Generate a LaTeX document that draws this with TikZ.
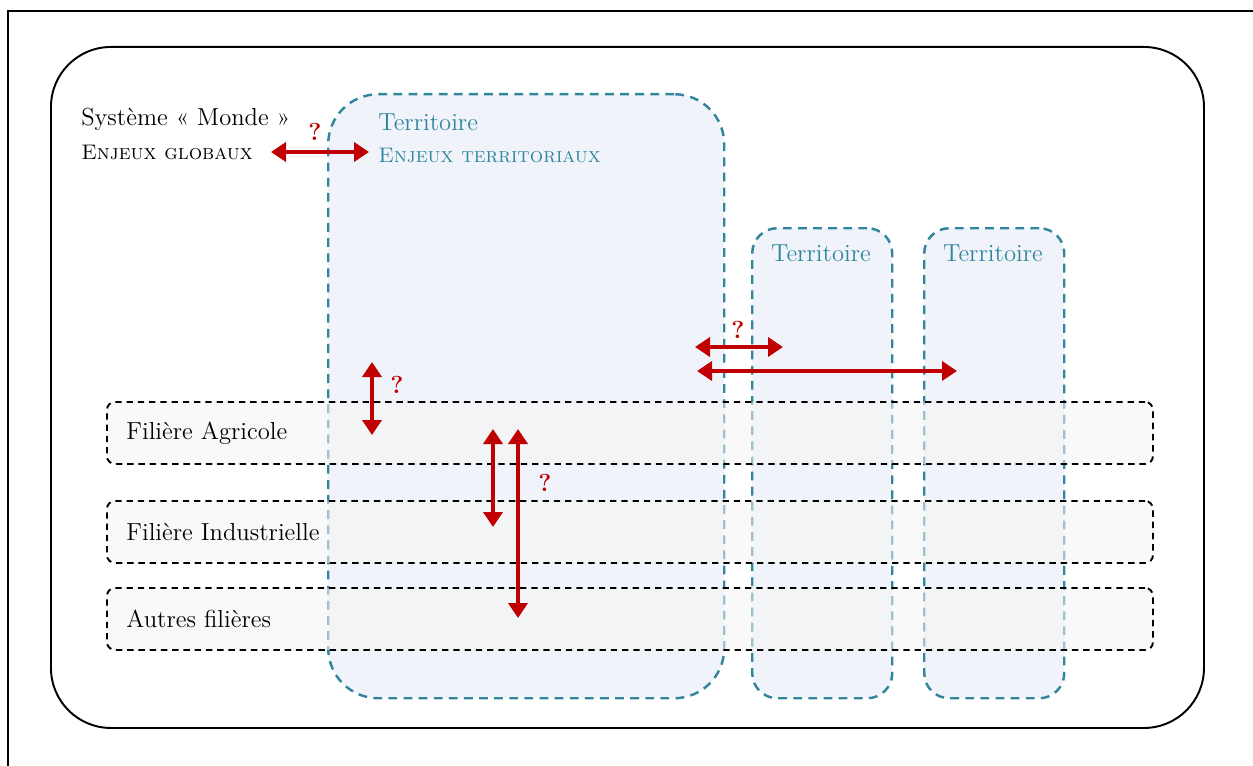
\documentclass[tikz,border=0pt]{standalone}
\usepackage{tikz,xcolor}
\usetikzlibrary{arrows.meta,positioning}
\definecolor{teal}{HTML}{31859C}
\definecolor{tfill}{HTML}{F0F4FA}
\definecolor{ffill}{HTML}{F4F4F4}
\definecolor{rouge}{HTML}{C00000}
\tikzset{
  lab/.style={font=\fontsize{14}{16}\selectfont,inner sep=0pt},
  sclab/.style={font=\fontsize{12}{14}\selectfont,inner sep=0pt},
  tlab/.style={lab,text=teal},
  terr/.style={draw=teal,fill=tfill,line width=1.4pt,dash pattern=on 5pt off 3.6pt,anchor=north west,inner sep=0pt},
  fil/.style={draw=black,fill=ffill,fill opacity=0.55,line width=1.1pt,dash pattern=on 3.6pt off 2.8pt,rounded corners=4.5pt,anchor=north west,inner sep=0pt,minimum width=20.92cm,minimum height=1.24cm},
  ar/.style={{Triangle[length=0.3cm,width=0.38cm]}-{Triangle[length=0.3cm,width=0.38cm]},line width=2.8pt,draw=rouge},
  q/.style={text=rouge,font=\fontsize{14}{16}\selectfont\bfseries,inner sep=0pt},
}
\begin{document}
\begin{tikzpicture}
\useasboundingbox (0,0) rectangle (25.06,-15.3);
% cadre
\coordinate (c0) at (0.16,-15.4);
\coordinate (c1) at (0.16,-0.22);
\coordinate (c2) at (25.2,-0.22);
\draw[line width=1.6pt] (c0)--(c1)--(c2);

% systeme monde
\node[draw,line width=1.1pt,rounded corners=1.2cm,anchor=north west,minimum width=23.06cm,minimum height=13.62cm] (monde) at (1.0,-0.92) {};
\node[lab,anchor=base west] (mondelab) at (1.62,-2.5) {Système « Monde »};
\node[sclab,anchor=base west] (mondeenj) at (1.62,-3.18) {\textsc{Enjeux globaux}};

% territoires
\node[terr,rounded corners=1.0cm,minimum width=7.92cm,minimum height=12.08cm] (t1) at (6.54,-1.86) {};
\node[terr,rounded corners=0.5cm,minimum width=2.8cm,minimum height=9.4cm] (t2) at (15.02,-4.54) {};
\node[terr,rounded corners=0.5cm,minimum width=2.8cm,minimum height=9.4cm] (t3) at (18.46,-4.54) {};
\node[tlab,anchor=base west] (t1lab) at (7.56,-2.6) {Territoire};
\node[sclab,text=teal,anchor=base west] (t1enj) at (7.56,-3.26) {\textsc{Enjeux territoriaux}};
\node[tlab,anchor=base] (t2lab) at (16.42,-5.22) {Territoire};
\node[tlab,anchor=base] (t3lab) at (19.86,-5.22) {Territoire};

% filieres
\node[fil] (f1) at (2.12,-8.02) {};
\node[fil] (f2) at (2.12,-10.0) {};
\node[fil] (f3) at (2.12,-11.74) {};
\node[lab,right=0.4cm of f1.west] (f1lab) {Filière Agricole};
\node[lab,right=0.4cm of f2.west] (f2lab) {Filière Industrielle};
\node[lab,right=0.4cm of f3.west] (f3lab) {Autres filières};

% liens
\coordinate (a1l) at (5.42,-3.04);  \coordinate (a1r) at (7.38,-3.04);
\coordinate (a2l) at (13.9,-6.94);  \coordinate (a2r) at (15.66,-6.94);
\coordinate (a3l) at (13.94,-7.42); \coordinate (a3r) at (19.14,-7.42);
\coordinate (a4t) at (7.44,-7.24);  \coordinate (a4b) at (7.44,-8.7);
\coordinate (a5t) at (9.86,-8.58);  \coordinate (a5b) at (9.86,-10.54);
\coordinate (a6t) at (10.36,-8.58); \coordinate (a6b) at (10.36,-12.36);
\draw[ar] (a1l)--(a1r);
\draw[ar] (a2l)--(a2r);
\draw[ar] (a3l)--(a3r);
\draw[ar] (a4t)--(a4b);
\draw[ar] (a5t)--(a5b);
\draw[ar] (a6t)--(a6b);
\node[q] (q1) at (6.3,-2.64) {?};
\node[q] (q2) at (14.76,-6.6) {?};
\node[q] (q3) at (7.94,-7.7) {?};
\node[q] (q4) at (10.9,-9.66) {?};
\end{tikzpicture}
\end{document}
